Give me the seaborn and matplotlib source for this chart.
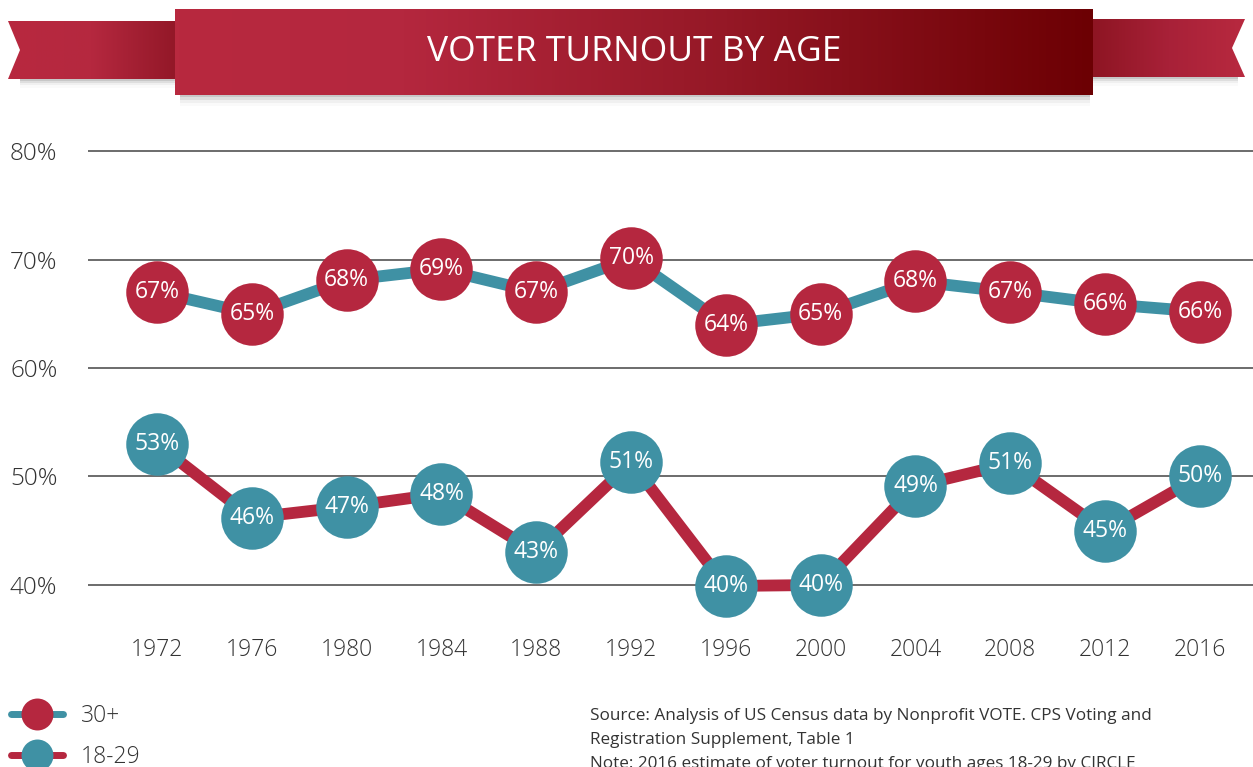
import numpy as np
import pandas as pd
import seaborn as sns
import matplotlib.pyplot as plt
from matplotlib.colors import LinearSegmentedColormap
from matplotlib.patches import Polygon, Rectangle
from matplotlib.lines import Line2D

# data
years = ['1972', '1976', '1980', '1984', '1988', '1992',
         '1996', '2000', '2004', '2008', '2012', '2016']
turnout_30plus = [67.0, 65.0, 68.1, 69.1, 67.0, 70.1, 64.0, 65.0, 68.0, 67.0, 65.9, 65.2]
labels_30plus = ['67%', '65%', '68%', '69%', '67%', '70%', '64%', '65%', '68%', '67%', '66%', '66%']
turnout_18_29 = [53.0, 46.2, 47.2, 48.4, 43.0, 51.3, 39.9, 40.0, 49.1, 51.2, 45.0, 50.0]
labels_18_29 = ['53%', '46%', '47%', '48%', '43%', '51%', '40%', '40%', '49%', '51%', '45%', '50%']
y_ticks = [40, 50, 60, 70, 80]
y_tick_labels = ['40%', '50%', '60%', '70%', '80%']
series_names = ['30+', '18-29']

RED = '#B5273F'
TEAL = '#3F91A4'
TXT = '#333333'

sns.set_style('white')
plt.rcParams['font.family'] = ['Open Sans', 'DejaVu Sans']

W, H = 1253, 767
fig = plt.figure(figsize=(W / 100, H / 100), dpi=100)
ax = fig.add_axes([88 / W, (H - 620) / H, (W - 88) / W, (620 - 130) / H])

df = pd.DataFrame({'year': years, 'old': turnout_30plus, 'young': turnout_18_29})

sns.lineplot(data=df, x='year', y='old', ax=ax, color=TEAL, linewidth=8.5,
             marker='o', markersize=45, markerfacecolor=RED, markeredgewidth=0,
             clip_on=False, zorder=3)
sns.lineplot(data=df, x='year', y='young', ax=ax, color=RED, linewidth=8.5,
             marker='o', markersize=45, markerfacecolor=TEAL, markeredgewidth=0,
             clip_on=False, zorder=3)

for i, (v, lab) in enumerate(zip(turnout_30plus, labels_30plus)):
    ax.text(i, v, lab, ha='center', va='center', color='white', fontsize=16.5,
            zorder=5)
for i, (v, lab) in enumerate(zip(turnout_18_29, labels_18_29)):
    ax.text(i, v, lab, ha='center', va='center', color='white', fontsize=16.5,
            zorder=5)

ax.set_xlim(-0.728, 11.56)
ax.set_ylim(40 - 35 / 10.83, 80 + 21 / 10.83)
ax.set_yticks(y_ticks)
ax.set_yticklabels(y_tick_labels)
ax.grid(axis='y', color='#444444', linewidth=1.1)
ax.grid(axis='x', visible=False)
ax.set_axisbelow(True)
for s in ax.spines.values():
    s.set_visible(False)
ax.tick_params(axis='y', length=0, pad=22, labelsize=17.5, labelcolor=TXT)
ax.tick_params(axis='x', length=0, pad=13, labelsize=16.5, labelcolor=TXT)
for t in ax.get_xticklabels() + ax.get_yticklabels():
    t.set_fontweight('light')
ax.set_xlabel('')
ax.set_ylabel('')
ax.patch.set_alpha(0)

# legend
handles = [
    Line2D([], [], color=TEAL, linewidth=5, marker='o', markersize=23,
           markerfacecolor=RED, markeredgewidth=0, solid_capstyle='round'),
    Line2D([], [], color=RED, linewidth=5, marker='o', markersize=23,
           markerfacecolor=TEAL, markeredgewidth=0, solid_capstyle='round'),
]
leg = fig.legend(handles, series_names, loc='upper left',
                 bbox_to_anchor=(6 / W, 1 - 699 / H), frameon=False,
                 fontsize=16.5, handlelength=2.3, handletextpad=0.75,
                 labelspacing=0.75, borderaxespad=0, borderpad=0.2)
for t in leg.get_texts():
    t.set_color(TXT)
    t.set_fontweight('light')

# source notes
notes = ['Source: Analysis of US Census data by Nonprofit VOTE. CPS Voting and',
         'Registration Supplement, Table 1',
         'Note: 2016 estimate of voter turnout for youth ages 18-29 by CIRCLE']
for k, line in enumerate(notes):
    fig.text(590 / W, 1 - (716 + 24 * k) / H, line, ha='left', va='center',
             fontsize=12.3, color=TXT)

# ribbon banner
bg = fig.add_axes([0, 0, 1, 1], zorder=10)
bg.set_xlim(0, W)
bg.set_ylim(H, 0)
bg.axis('off')
bg.patch.set_alpha(0)

# soft shadows
for d, a in [(2, 0.10), (5, 0.07), (8, 0.04), (11, 0.02)]:
    bg.add_patch(Rectangle((180, 95), 910, d, color='black', alpha=a, lw=0))
    bg.add_patch(Rectangle((20, 79), 155, d * 0.8, color='black', alpha=a, lw=0))
    bg.add_patch(Rectangle((1093, 77), 145, d * 0.8, color='black', alpha=a, lw=0))

grad = np.linspace(0, 1, 256).reshape(1, -1)

tail_l = Polygon([(8, 21), (175, 21), (175, 79), (8, 79), (20, 50)], closed=True,
                 facecolor='none', edgecolor='none')
bg.add_patch(tail_l)
cm_l = LinearSegmentedColormap.from_list('l', ['#B8293F', '#B5283F', '#931828'])
im = bg.imshow(grad, cmap=cm_l, extent=(8, 175, 79, 21), aspect='auto', zorder=1)
im.set_clip_path(tail_l)

tail_r = Polygon([(1093, 19), (1245, 19), (1232, 48), (1245, 77), (1093, 77)], closed=True,
                 facecolor='none', edgecolor='none')
bg.add_patch(tail_r)
cm_r = LinearSegmentedColormap.from_list('r', ['#8E1523', '#A82138', '#B8293F'])
im = bg.imshow(grad, cmap=cm_r, extent=(1093, 1245, 77, 19), aspect='auto', zorder=1)
im.set_clip_path(tail_r)

cm_m = LinearSegmentedColormap.from_list(
    'm', [(0, '#B8293F'), (0.25, '#B4273E'), (0.6, '#951826'), (1, '#6C0003')])
bg.imshow(grad, cmap=cm_m, extent=(175, 1093, 95, 9), aspect='auto', zorder=2)
bg.text((175 + 1093) / 2, 52, 'VOTER TURNOUT BY AGE', ha='center', va='center',
        color='white', fontsize=25.5, zorder=3)
bg.set_xlim(0, W)
bg.set_ylim(H, 0)

fig.savefig('out.png', dpi=100)
